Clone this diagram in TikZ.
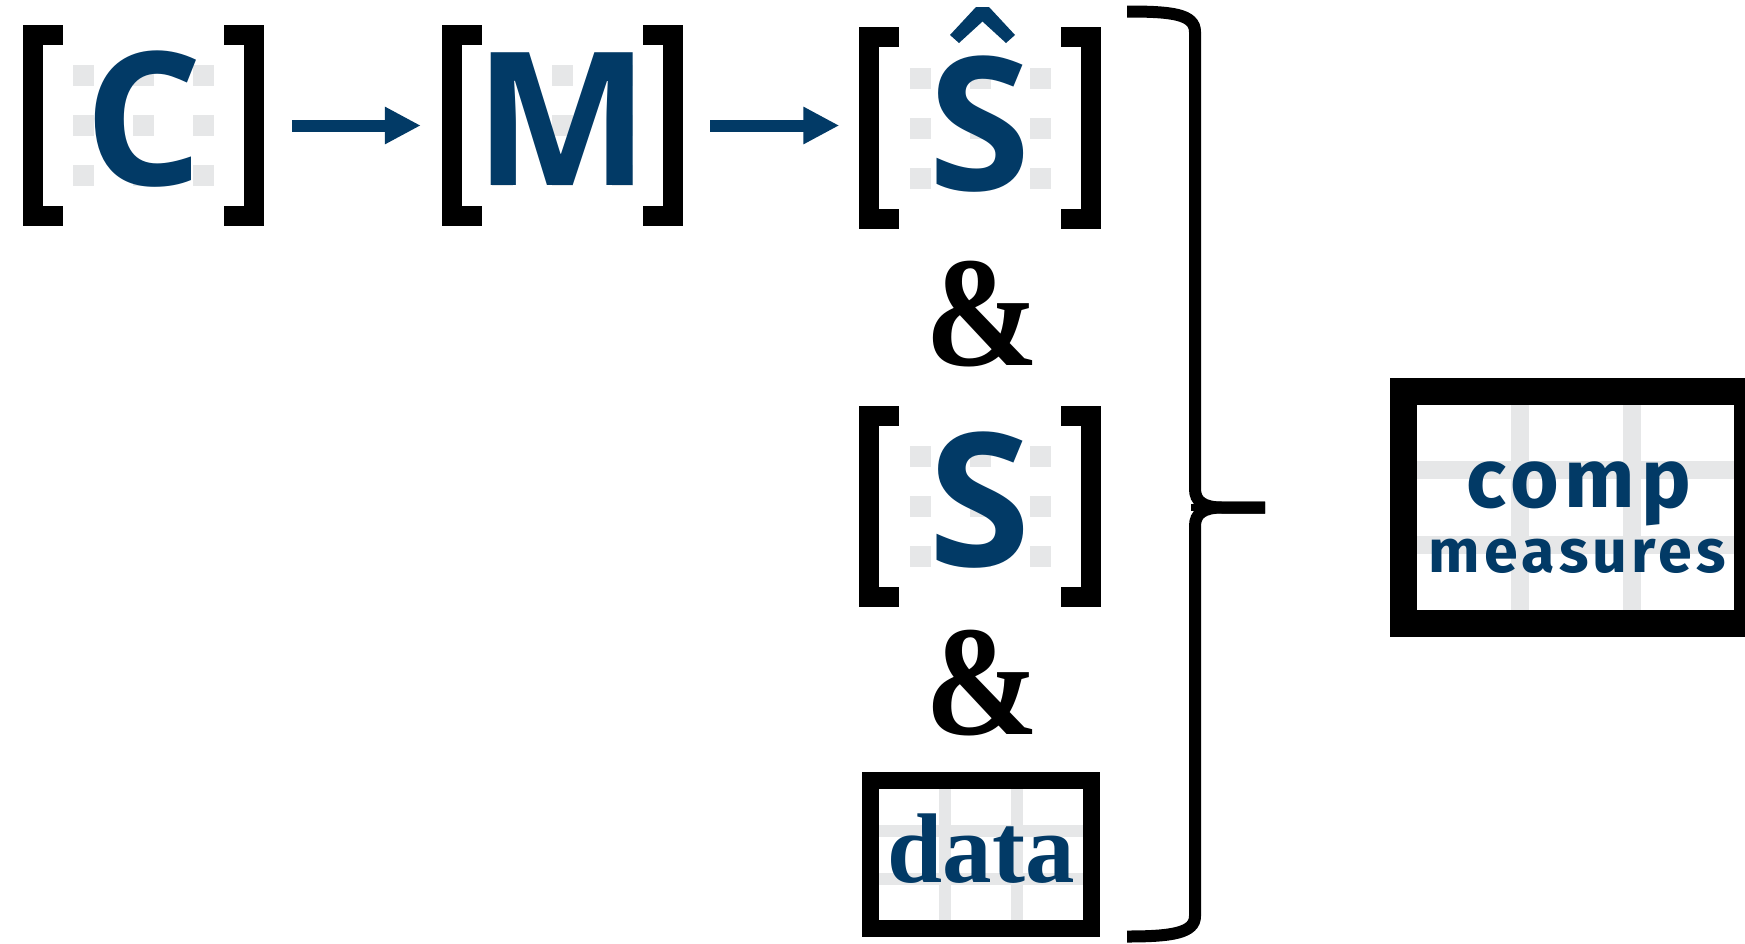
\documentclass[tikz,border=0pt]{standalone}
\usepackage{fontspec}
\usepackage{graphicx}
\usetikzlibrary{arrows.meta}
\newfontfamily\letterfont{Open Sans}
\newfontfamily\seriffont{Liberation Serif}
\newfontfamily\tagfont{Fira Sans}[LetterSpace=7]
\definecolor{ink}{HTML}{023A66}
\definecolor{cellgrey}{HTML}{E6E7E8}

% heavy square brackets drawn on the left and right edges of a node
\newcommand\squarebrackets[1]{%
  \fill (#1.north west) rectangle ([xshift=20pt]#1.south west);
  \fill (#1.north west) rectangle ([xshift=40pt,yshift=-20pt]#1.north west);
  \fill (#1.south west) rectangle ([xshift=40pt,yshift=20pt]#1.south west);
  \fill (#1.north east) rectangle ([xshift=-20pt]#1.south east);
  \fill (#1.north east) rectangle ([xshift=-40pt,yshift=-20pt]#1.north east);
  \fill (#1.south east) rectangle ([xshift=-40pt,yshift=20pt]#1.south east);}

\begin{document}
\begin{tikzpicture}[x=1pt,y=-1pt,
  symbol/.style={inner sep=0pt, minimum width=241pt, minimum height=201pt, text=ink,
    font=\letterfont\bfseries\fontsize{186}{186}\selectfont,
    text height=160pt, text depth=41pt,
    path picture={\foreach \dx in {-60,0,60}{\foreach \dy in {-50,0,50}{
      \fill[cellgrey] ([shift={(\dx-10.5,\dy-10.5)}]path picture bounding box.center) rectangle ++(21,21);}}}},
  amp/.style={inner sep=0pt, font=\seriffont\bfseries\fontsize{157}{157}\selectfont},
  databox/.style={draw, line width=17pt, minimum width=221pt, minimum height=148pt, inner sep=0pt,
    text=ink, font=\seriffont\bfseries\fontsize{99}{99}\selectfont,
    text height=100pt, text depth=45pt,
    path picture={
      \fill[cellgrey] ([xshift=-42pt]path picture bounding box.north) rectangle ([xshift=-30pt]path picture bounding box.south);
      \fill[cellgrey] ([xshift=30pt]path picture bounding box.north) rectangle ([xshift=42pt]path picture bounding box.south);
      \fill[cellgrey] ([yshift=29.5pt]path picture bounding box.west) rectangle ([yshift=17.5pt]path picture bounding box.east);
      \fill[cellgrey] ([yshift=-18pt]path picture bounding box.west) rectangle ([yshift=-30pt]path picture bounding box.east);}},
  compbox/.style={draw, line width=27pt, minimum width=344pt, minimum height=232pt, inner sep=0pt,
    text=ink, font=\tagfont\bfseries, text height=0pt, text depth=0pt,
    path picture={
      \fill[cellgrey] ([xshift=-64.5pt]path picture bounding box.north) rectangle ([xshift=-46.5pt]path picture bounding box.south);
      \fill[cellgrey] ([xshift=47.5pt]path picture bounding box.north) rectangle ([xshift=65.5pt]path picture bounding box.south);
      \fill[cellgrey] ([yshift=46.5pt]path picture bounding box.west) rectangle ([yshift=28.5pt]path picture bounding box.east);
      \fill[cellgrey] ([yshift=-28pt]path picture bounding box.west) rectangle ([yshift=-46pt]path picture bounding box.east);}},
  flow/.style={draw=ink, line width=12pt, -{Triangle[length=36pt,width=35pt]}},
  brace/.style={line width=12pt, line cap=butt}
]
\fill[white] (0,0) rectangle (1745,943);
\useasboundingbox (0,0) rectangle (1745,943);
\clip (0,0) rectangle (1745,943);

% the pipeline: C -> M -> S-hat
\node[symbol] (C) at (143.5,125.5) {C};
\node[symbol] (M) at (562.5,125.5) {M};
\node[symbol, minimum height=202pt, text height=163.5pt, text depth=38.5pt] (Shat) at (980,128) {S};
\node[amp] (amp1) at (982,314) {\scalebox{0.87}[1]{\&}};
\node[symbol] (S) at (980,506.5) {S};
\node[amp] (amp2) at (982,683) {\scalebox{0.87}[1]{\&}};
\node[databox] (data) at (981,854.5) {data};

\squarebrackets{C}
\squarebrackets{M}
\squarebrackets{Shat}
\squarebrackets{S}

% circumflex over the estimated S
\fill[ink] (950,35) -- (976,7) -- (989,7) -- (1015,35) -- (1006,43) -- (982.5,21.5) -- (959,43) -- cycle;

\draw[flow, shorten <=28pt, shorten >=21pt] (C.east) -- (M.west);
\draw[flow, shorten <=27pt, shorten >=20pt] (M.east) -- (M.east -| Shat.west);

% brace gathering the three inputs
\coordinate (btop) at (1127,11.5);
\coordinate (bbot) at (1127,936.5);
\coordinate (btip) at (1265,507.5);
\draw[brace] (btop) .. controls (1172,11.5) and (1195,14) .. (1195,32) -- (1195,489)
  .. controls (1195,501) and (1203,507.5) .. (1222,507.5) -- (btip);
\draw[brace] (btip) -- (1222,507.5) .. controls (1203,507.5) and (1195,514) .. (1195,526)
  -- (1195,916) .. controls (1195,933) and (1172,936.5) .. (bbot);
\draw[line width=7pt] (1191,507.5) -- (1215,507.5);

% output table
\node[compbox] (comp) at (1575.5,507.5) {\raisebox{0pt}[0pt][0pt]{\makebox[0pt]{\hspace*{6pt}\fontsize{83.5}{83.5}\selectfont comp}}\raisebox{-65pt}[0pt][0pt]{\makebox[0pt]{\hspace*{4pt}\fontsize{61}{61}\selectfont measures}}};
\end{tikzpicture}
\end{document}
